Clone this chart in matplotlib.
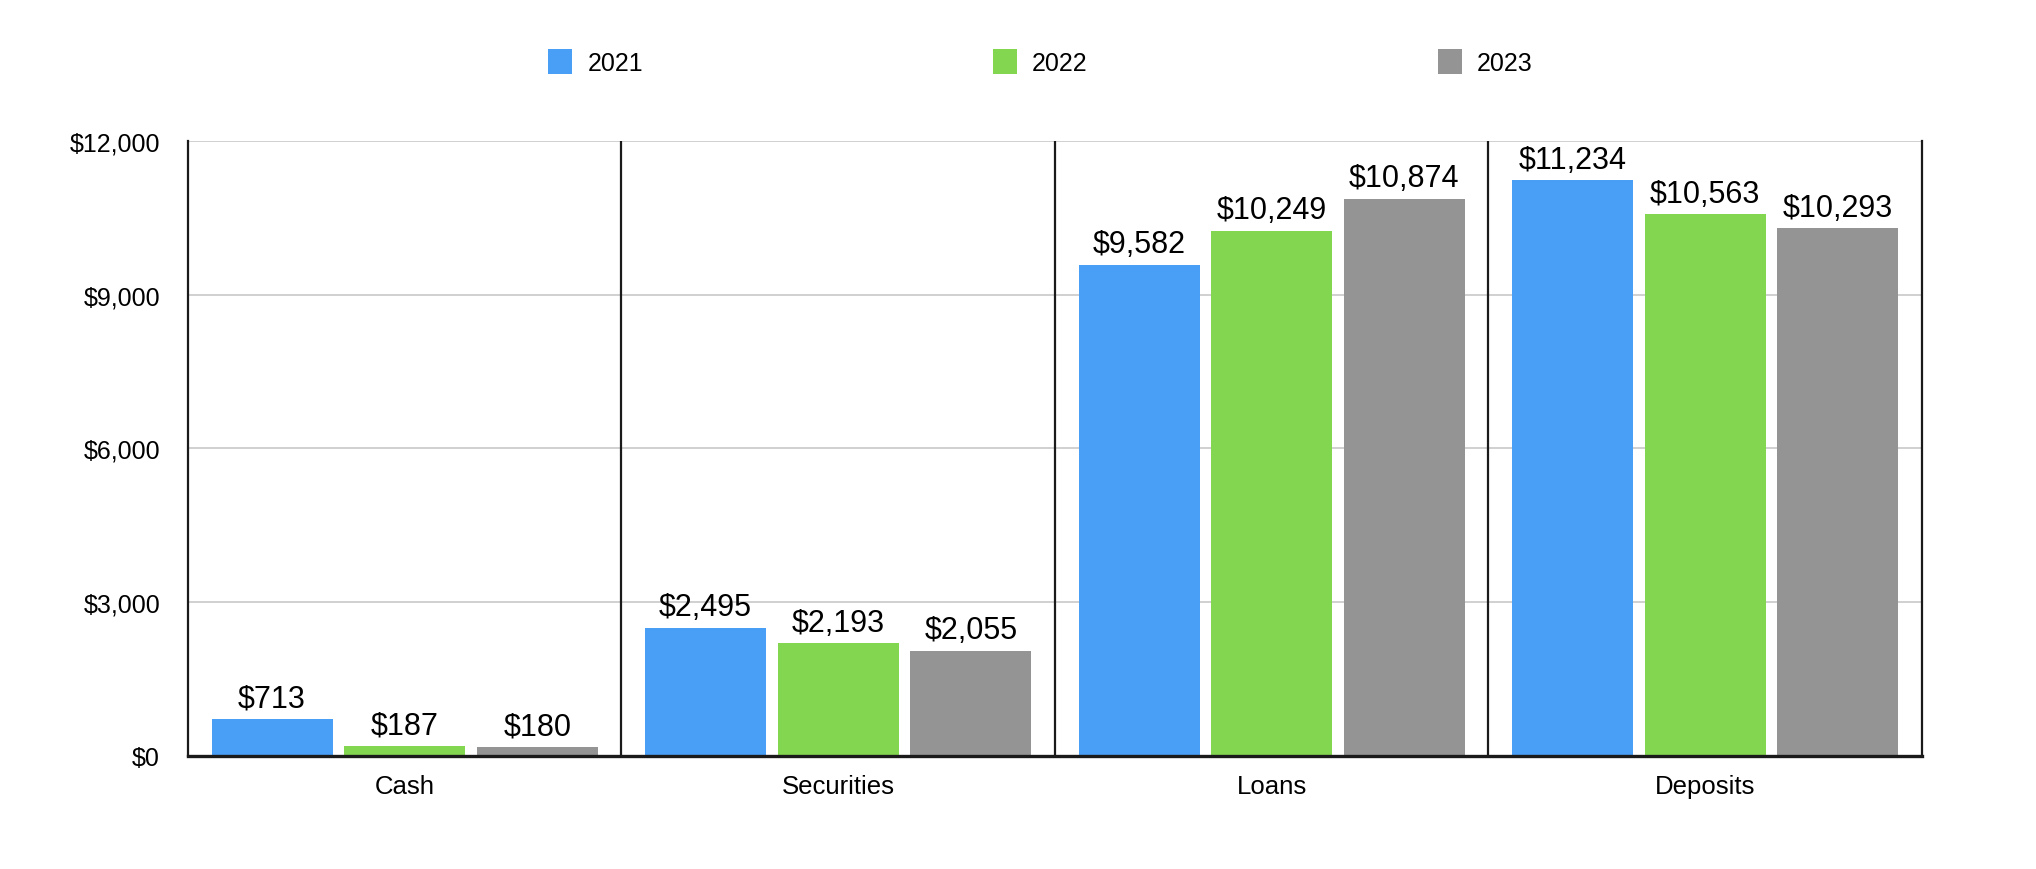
import numpy as np
import matplotlib
matplotlib.use("Agg")
from matplotlib import pyplot as plt
from matplotlib.ticker import FuncFormatter

categories = ["Cash", "Securities", "Loans", "Deposits"]
years = ["2021", "2022", "2023"]
values_2021 = [713, 2495, 9582, 11234]
values_2022 = [187, 2193, 10249, 10563]
values_2023 = [180, 2055, 10874, 10293]
colors = ["#499EF6", "#83D650", "#949494"]

plt.rcParams['font.family'] = ['Liberation Sans', 'DejaVu Sans']

fig = plt.figure(figsize=(20.36, 8.7), dpi=100)
ax = fig.add_axes([0.0923, 0.130, 0.8517, 0.707])

x = np.arange(len(categories))
ancho = 0.279
paso = 0.306
series = [values_2021, values_2022, values_2023]
barras = []
for i, vals in enumerate(series):
    b = ax.bar(x + (i - 1) * paso, vals, ancho, color=colors[i], label=years[i], zorder=3)
    ax.bar_label(b, labels=["$" + format(v, ",") for v in vals], padding=4, fontsize=22)
    barras.append(b)

ax.set_xlim(-0.5, len(categories) - 0.5)
ax.set_ylim(0, 12000)
ax.set_yticks([0, 3000, 6000, 9000, 12000])
ax.yaxis.set_major_formatter(FuncFormatter(lambda v, p: "$" + format(int(v), ",")))
ax.set_xticks(x)
ax.set_xticklabels(categories)
ax.tick_params(axis='y', length=0, pad=20, labelsize=18)
ax.tick_params(axis='x', length=0, pad=13, labelsize=18.5)
ax.grid(axis='y', color='#C8C8C8', linewidth=1.2, zorder=0)

# separadores verticales entre grupos
for s in x[:-1] + 0.5:
    ax.axvline(s, color='#1a1a1a', linewidth=1.6, zorder=4)

ax.spines['top'].set_visible(False)
ax.spines['left'].set_color('#1a1a1a')
ax.spines['left'].set_linewidth(1.6)
ax.spines['right'].set_color('#1a1a1a')
ax.spines['right'].set_linewidth(1.6)
ax.spines['bottom'].set_color('#1a1a1a')
ax.spines['bottom'].set_linewidth(2.4)
ax.spines['bottom'].set_zorder(5)

fig.legend(handles=barras, labels=years, loc='center', bbox_to_anchor=(0.511, 0.928),
           ncol=3, frameon=False, fontsize=18, handlelength=0.96, handleheight=1.2,
           handletextpad=0.6, columnspacing=14)

plt.savefig("out.png", dpi=100)
